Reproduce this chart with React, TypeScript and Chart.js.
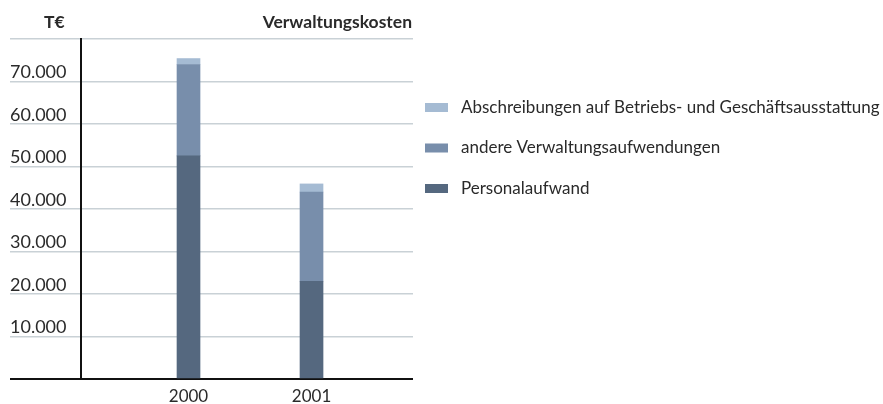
import React, { useEffect, useRef } from 'react';
import { Chart, registerables } from 'chart.js';

Chart.register(...registerables);

// ---- data ----
const years = [2000, 2001];
const personalaufwand = [52500, 23000];
const andereVerwaltungsaufwendungen = [21500, 21000];
const abschreibungen = [1400, 1900];

const seriesLabels = [
  'Personalaufwand',
  'andere Verwaltungsaufwendungen',
  'Abschreibungen auf Betriebs- und Geschäftsausstattung',
];
const seriesColors = ['#55687f', '#788eab', '#a5bbd3'];

const unitLabel = 'T€';
const chartTitle = 'Verwaltungskosten';
const yMax = 80000;
const yStep = 10000;

const FAMILY = "Lato, 'Noto Sans', sans-serif";
const TEXT = '#2a2a2a';
const GRID = '#c9d1d6';
const AXIS = '#111111';

const fmt = (v: number) => String(v).replace(/\B(?=(\d{3})+(?!\d))/g, '.');

const overlayPlugin = {
  id: 'overlay',
  afterDraw(chart: any) {
    const ctx = chart.ctx;
    const area = chart.chartArea;
    ctx.save();
    ctx.fillStyle = TEXT;
    ctx.textBaseline = 'middle';
    ctx.font = `bold 17.5px ${FAMILY}`;
    ctx.textAlign = 'left';
    ctx.fillText(unitLabel, 44, 22);
    ctx.textAlign = 'right';
    ctx.fillText(chartTitle, area.right - 1, 22);

    // legend (reverse order: top item is top of stack)
    const ds = chart.data.datasets.slice().reverse();
    ctx.textAlign = 'left';
    ctx.font = `17px ${FAMILY}`;
    ds.forEach((d: any, i: number) => {
      const cy = 107.5 + i * 40.5;
      ctx.fillStyle = d.backgroundColor;
      ctx.fillRect(area.right + 12, cy - 4.5, 23, 9);
      ctx.fillStyle = TEXT;
      ctx.fillText(d.label, area.right + 48, cy);
    });
    ctx.restore();
  },
};

export default function App() {
  const ref = useRef<HTMLCanvasElement | null>(null);

  useEffect(() => {
    document.body.style.margin = '0';
    const canvas = ref.current;
    if (!canvas) return;
    const values = [personalaufwand, andereVerwaltungsaufwendungen, abschreibungen];
    const chart = new Chart(canvas, {
      type: 'bar',
      data: {
        datasets: values.map((arr, i) => ({
          label: seriesLabels[i],
          data: arr.map((v, j) => ({ x: years[j], y: v })),
          backgroundColor: seriesColors[i],
          borderWidth: 0,
          barThickness: 23,
        })),
      },
      options: {
        responsive: false,
        animation: false,
        devicePixelRatio: 1,
        layout: { padding: { top: 39, left: 10, right: 470, bottom: 0 } },
        plugins: {
          legend: { display: false },
          tooltip: { enabled: false },
        },
        scales: {
          x: {
            type: 'linear',
            stacked: true,
            offset: false,
            bounds: 'data',
            min: years[0] - 0.874,
            max: years[1] + 0.825,
            afterBuildTicks: (s: any) => {
              s.ticks = years.map((v) => ({ value: v }));
            },
            afterFit: (s: any) => {
              s.height = 25;
            },
            grid: { display: false, drawTicks: false, offset: false },
            border: { display: false },
            ticks: {
              callback: (v: any) => String(v),
              font: { family: FAMILY, size: 17 },
              color: TEXT,
              padding: 7,
              maxRotation: 0,
            },
          },
          y: {
            stacked: true,
            min: 0,
            max: yMax,
            afterFit: (s: any) => {
              s.width = 71;
            },
            ticks: {
              stepSize: yStep,
              callback: (v: any) => (v === 0 || v === yMax ? '' : fmt(v)),
              crossAlign: 'far',
              labelOffset: -9,
              font: { family: FAMILY, size: 18 },
              color: TEXT,
            },
            grid: {
              color: (c: any) => (c.tick && c.tick.value === 0 ? AXIS : GRID),
              lineWidth: (c: any) => (c.tick && c.tick.value === 0 ? 2 : 1.5),
              tickLength: 71,
              drawTicks: true,
            },
            border: { display: true, color: AXIS, width: 2 },
          },
        },
      },
      plugins: [overlayPlugin],
    } as any);
    return () => chart.destroy();
  }, []);

  return (
    <div style={{ width: 883, height: 404 }}>
      <canvas ref={ref} width={883} height={404} style={{ display: 'block' }} />
    </div>
  );
}
